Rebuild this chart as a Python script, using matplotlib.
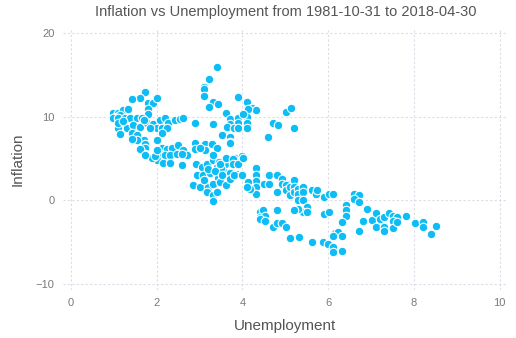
import matplotlib
matplotlib.use("Agg")
import matplotlib.pyplot as plt

# Unemployment (x) and inflation (y)
unemployment = [
    # upper left cluster
    1.72, 1.61, 1.42, 1.79, 1.91, 2.00, 1.79, 1.79,
    0.98, 1.10, 1.21, 1.33, 1.05, 1.14, 0.98,
    1.10, 1.26, 1.38, 1.54, 1.65,
    1.10, 1.31, 1.45, 1.61, 1.10, 1.20,
    1.14, 1.42, 1.54,
    1.77, 1.91, 2.07, 2.19, 2.26, 2.42, 2.54, 2.61,
    2.00, 2.12, 2.24, 2.12, 1.85, 1.70,
    1.70, 1.54, 1.42,
    1.72, 1.72, 1.72, 1.61, 2.00,
    2.12, 2.24, 2.35, 2.49, 2.61, 2.70,
    2.07, 2.19, 2.31, 2.47, 2.59,
    2.00, 2.14, 2.31, 1.89, 1.72, 1.96, 2.00,
    # upper middle cluster
    3.40, 3.22, 3.10, 3.10, 3.10, 3.31, 3.43, 3.22,
    3.89, 4.10, 4.22, 4.31, 4.13, 3.61,
    2.89, 3.31,
    3.71, 3.71, 3.89, 3.89, 4.10, 4.10, 4.01,
    3.64, 3.80, 3.89, 4.10,
    3.52, 3.71, 3.71,
    4.71, 4.83, 5.01, 5.13, 5.20, 4.59,
    2.89, 3.12, 3.29, 3.40, 2.89, 3.12, 3.01, 3.71,
    # centre cluster
    2.59, 2.91, 3.05, 3.17, 3.31, 3.31, 3.59, 3.82, 4.00,
    2.94, 3.08, 3.24, 3.43, 3.54, 3.71, 3.87, 4.00,
    2.84, 3.01, 3.19, 3.31, 3.47, 3.64,
    3.17, 3.31, 3.40, 3.31,
    3.40, 3.45, 3.60, 3.20, 3.50, 3.10, 3.35,
    3.47, 3.61, 3.78, 3.78, 3.89, 4.01,
    3.52, 3.61, 3.71, 3.80, 3.99,
    # middle band
    4.31, 4.31, 4.31, 4.31, 4.31, 4.13, 4.17, 4.10,
    4.59, 4.80, 4.59, 4.94, 5.03, 5.10, 5.22, 5.29,
    4.50, 4.62, 4.62, 4.80, 4.92, 4.92, 4.80,
    5.01, 5.01, 5.10, 5.10, 5.20, 5.20, 5.20, 5.29, 5.29, 5.29,
    5.41, 5.41, 5.41, 5.50, 5.41, 5.50, 5.29, 5.20,
    5.62, 5.71, 5.73, 5.90, 6.01, 6.11,
    # lower band
    4.41, 4.41, 4.48, 4.52, 4.41, 4.52, 4.80,
    4.71, 4.80, 4.92, 5.01, 5.10, 5.31, 5.62,
    5.87, 5.99, 6.11, 6.11, 6.32,
    5.90, 6.01,
    6.60, 6.71, 6.60, 6.71,
    6.41, 6.41, 6.41, 6.32,
    6.15, 6.22, 6.32, 6.11,
    6.90, 6.81, 6.71,
    7.02, 7.11, 7.20, 7.30, 7.41, 7.51, 7.60, 7.51,
    7.11, 7.30, 7.30, 7.51, 7.60,
    7.81, 8.02, 8.21, 8.21, 8.41, 8.51,
]
inflation = [
    12.9, 12.3, 12.1, 11.7, 11.6, 12.2, 10.9, 10.3,
    10.4, 10.5, 10.8, 10.9, 10.0, 10.2, 9.9,
    9.8, 9.8, 9.8, 9.9, 9.8,
    8.7, 8.6, 9.0, 8.8, 9.3, 9.5,
    8.0, 8.1, 7.8,
    9.3, 9.1, 9.6, 9.8, 9.3, 9.6, 9.7, 9.8,
    8.6, 8.7, 8.7, 8.1, 8.6, 9.6,
    7.2, 7.2, 7.4,
    6.8, 6.3, 5.6, 6.2, 7.2,
    6.3, 6.2, 6.3, 6.6, 6.0, 5.4,
    5.6, 5.4, 5.4, 5.6, 5.6,
    4.8, 4.5, 4.5, 5.1, 5.4, 5.3, 6.0,
    15.9, 14.5, 13.6, 13.3, 12.5, 11.8, 11.5, 11.2,
    12.4, 11.8, 11.1, 10.8, 10.9, 10.4,
    9.3, 9.1,
    9.7, 9.1, 9.8, 9.2, 10.0, 9.3, 10.3,
    8.8, 8.6, 8.7, 8.6,
    7.8, 7.6, 7.0,
    9.3, 9.0, 10.6, 11.1, 8.6, 7.6,
    6.9, 6.7, 6.8, 6.3, 6.2, 6.0, 6.3, 6.9,
    4.2, 4.3, 4.0, 4.4, 4.8, 5.4, 5.0, 5.1, 5.3,
    3.0, 3.0, 3.3, 2.7, 3.6, 3.3, 3.2, 3.2,
    1.8, 1.6, 1.6, 2.0, 2.2, 1.8,
    1.0, 0.6, 1.0, -0.1,
    4.0, 4.6, 4.3, 3.8, 3.9, 2.4, 3.5,
    4.4, 5.1, 5.0, 4.4, 4.4, 5.1,
    3.0, 1.8, 2.6, 3.1, 3.0,
    3.9, 3.0, 2.3, 1.6, 0.8, 2.2, 1.4, 1.6,
    3.0, 3.2, 2.0, 2.6, 2.0, 1.6, 2.4, 1.2,
    2.0, 3.0, 2.0, 3.1, 2.6, 2.0, 1.0,
    1.8, 1.2, 1.6, 0.7, 2.4, 1.6, 1.0, 1.4, 0.8, 0.1,
    1.6, 1.0, 0.0, -0.8, -1.4, -1.4, -1.0, -1.2,
    1.3, 0.8, 1.2, 0.4, 0.8, 0.8,
    -1.4, -2.0, -1.2, -1.8, -2.2, -2.4, -1.2,
    -3.2, -2.7, -2.7, -3.2, -4.5, -4.4, -5.0,
    -5.0, -5.2, -5.6, -6.1, -6.0,
    -1.6, -1.4,
    0.8, 0.7, 0.2, -0.2,
    -0.5, -1.1, -1.8, -2.6,
    -3.9, -3.8, -4.2, -4.2,
    -1.0, -2.4, -3.6,
    -2.3, -1.5, -2.2, -2.0, -1.5, -1.8, -2.0, -2.4,
    -3.2, -3.2, -3.7, -3.3, -2.6,
    -1.9, -2.7, -2.6, -3.2, -4.0, -3.1,
]

x_ticks = [0, 2, 4, 6, 8, 10]
y_ticks = [-10, 0, 10, 20]

plt.rcParams['font.family'] = ['Liberation Sans', 'DejaVu Sans']

fig = plt.figure(figsize=(5.16, 3.38), dpi=100)
ax = fig.add_axes([0.122, 0.142, 0.862, 0.775])

ax.scatter(unemployment, inflation, s=38, color='#0dbdf5',
           edgecolors='white', linewidths=0.8, zorder=3)

ax.set_xlim(-0.19, 10.19)
ax.set_ylim(-10.7, 20.6)
ax.set_xticks(x_ticks)
ax.set_yticks(y_ticks)
ax.grid(True, color='#dcdce8', linestyle=(0, (2, 2)), linewidth=0.8)
ax.set_axisbelow(True)
for s in ax.spines.values():
    s.set_visible(False)
ax.tick_params(length=0, labelsize=8, labelcolor='#7a7a7a', pad=6)

ax.set_xlabel('Unemployment', fontsize=11, color='#555555', labelpad=8)
ax.set_ylabel('Inflation', fontsize=11, color='#555555', labelpad=8)
ax.set_title('Inflation vs Unemployment from 1981-10-31 to 2018-04-30',
             fontsize=10.5, color='#555555', pad=9)

fig.savefig('out.png', dpi=100)
